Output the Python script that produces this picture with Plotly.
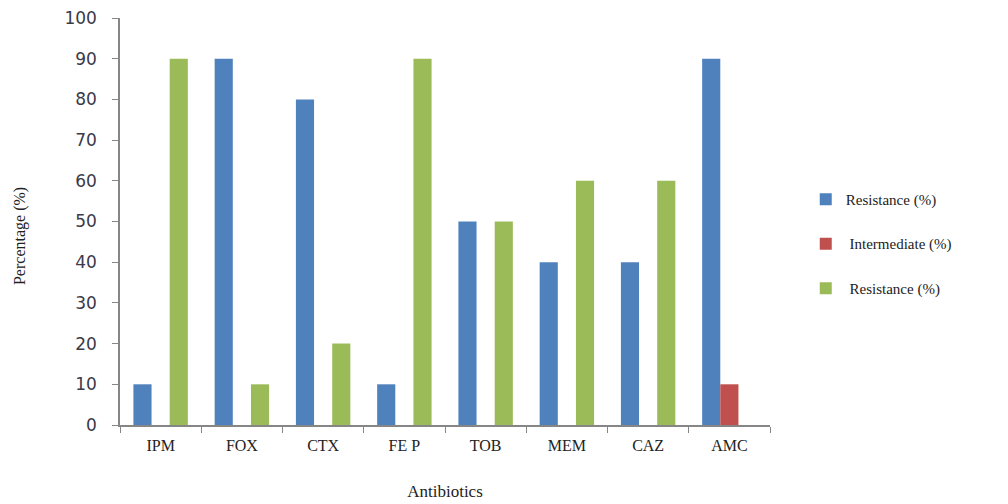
import plotly.graph_objects as go

categories = ["IPM", "FOX", "CTX", "FE P", "TOB", "MEM", "CAZ", "AMC"]
resistance1 = [10, 90, 80, 10, 50, 40, 40, 90]
intermediate = [0, 0, 0, 0, 0, 0, 0, 10]
resistance2 = [90, 10, 20, 90, 50, 60, 60, 0]
series_names = ["Resistance (%)", " Intermediate (%)", " Resistance (%)"]
colors = ["#4F81BD", "#C0504D", "#9BBB59"]

fig = go.Figure()
for i, (vals, name) in enumerate(zip([resistance1, intermediate, resistance2], series_names)):
    fig.add_trace(go.Bar(x=categories, y=vals, name=name, marker_color=colors[i],
                         marker_line_width=0, legendgroup=f"g{i}"))

fig.update_layout(
    width=1008, height=504,
    margin=dict(l=120, r=238, t=18, b=79),
    plot_bgcolor="white", paper_bgcolor="white",
    barmode="group", bargap=0.33, bargroupgap=0,
    font=dict(family="Liberation Serif", color="#222222"),
    legend=dict(x=1.055, y=0.445, xanchor="left", yanchor="middle",
                font=dict(family="Liberation Serif", size=15, color="#222222"),
                tracegroupgap=22, itemwidth=30),
    showlegend=True,
    annotations=[dict(text="Percentage (%)", textangle=-90, xref="paper", yref="paper",
                      x=-0.154, y=0.464, xanchor="center", yanchor="middle", showarrow=False,
                      font=dict(family="Liberation Serif", size=16, color="#222222"))],
)
fig.update_yaxes(range=[0, 100], dtick=10, showgrid=False, zeroline=False, automargin=False,
                 showline=True, linecolor="#868686", linewidth=1.5,
                 ticks="outside", ticklen=6, tickcolor="#868686", ticklabelstandoff=12,
                 tickfont=dict(family="DejaVu Sans", size=17, color="#3a3a4a"))
fig.update_xaxes(showgrid=False, showline=True, linecolor="#868686", linewidth=1.5, automargin=False,
                 ticks="outside", ticklen=6, tickcolor="#868686", tickson="boundaries",
                 ticklabelstandoff=5,
                 tickfont=dict(family="Liberation Serif", size=16, color="#222222"),
                 title=dict(text="Antibiotics", font=dict(family="Liberation Serif", size=17, color="#222222"), standoff=32))

fig.write_html("out.html")
